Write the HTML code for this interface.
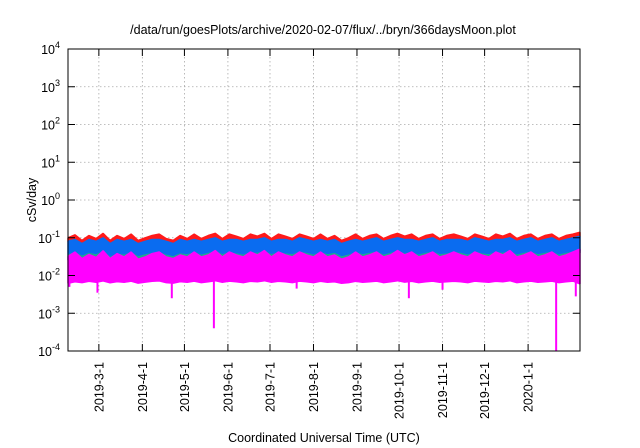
<!DOCTYPE html>
<html><head><meta charset="utf-8"><style>
html,body{margin:0;padding:0;background:#fff;}
svg{display:block;font-family:"Liberation Sans",sans-serif;}
</style></head><body>
<svg id="chart" width="640" height="448" viewBox="0 0 640 448">
<text x="323" y="34" font-size="12.5" text-anchor="middle">/data/run/goesPlots/archive/2020-02-07/flux/../bryn/366daysMoon.plot</text>
<g id="grid"></g>
<g id="series"></g>
<g id="axes"></g>
<text x="0" y="0" font-size="12.5" text-anchor="middle" transform="translate(36,200) rotate(-90)">cSv/day</text>
<text x="324" y="442" font-size="12.5" text-anchor="middle">Coordinated Universal Time (UTC)</text>
</svg>
<script>
const yTickExps = [-4,-3,-2,-1,0,1,2,3,4];
const monthTicks = ["2019-3-1","2019-4-1","2019-5-1","2019-6-1","2019-7-1","2019-8-1","2019-9-1","2019-10-1","2019-11-1","2019-12-1","2020-1-1"];
const sampleStepDays = 5;
const redTop = [0.10,0.12,0.085,0.115,0.095,0.13,0.085,0.115,0.095,0.125,0.085,0.10,0.115,0.125,0.095,0.085,0.115,0.095,0.125,0.095,0.115,0.13,0.095,0.125,0.11,0.095,0.125,0.11,0.13,0.095,0.125,0.11,0.095,0.125,0.11,0.095,0.125,0.095,0.115,0.085,0.10,0.125,0.095,0.115,0.125,0.095,0.115,0.13,0.11,0.125,0.095,0.115,0.125,0.095,0.115,0.125,0.11,0.095,0.125,0.11,0.095,0.125,0.11,0.13,0.095,0.115,0.125,0.095,0.115,0.125,0.095,0.115,0.125,0.14];
const blueTop = [0.08,0.09,0.07,0.09,0.08,0.10,0.07,0.09,0.08,0.09,0.07,0.08,0.09,0.09,0.08,0.07,0.09,0.08,0.09,0.08,0.09,0.10,0.08,0.09,0.09,0.08,0.09,0.09,0.10,0.08,0.09,0.09,0.08,0.10,0.09,0.08,0.09,0.08,0.09,0.07,0.08,0.09,0.08,0.09,0.10,0.08,0.09,0.10,0.09,0.09,0.08,0.09,0.10,0.08,0.09,0.09,0.09,0.08,0.10,0.09,0.08,0.09,0.09,0.10,0.08,0.09,0.10,0.08,0.09,0.10,0.08,0.09,0.10,0.11];
const greenLevel = [0.035,0.04,0.032,0.038,0.035,0.042,0.03,0.037,0.034,0.04,0.031,0.035,0.038,0.04,0.034,0.031,0.037,0.035,0.04,0.034,0.038,0.043,0.035,0.04,0.037,0.034,0.04,0.038,0.043,0.035,0.04,0.037,0.035,0.041,0.038,0.034,0.04,0.035,0.038,0.031,0.034,0.04,0.035,0.038,0.041,0.034,0.038,0.043,0.037,0.04,0.034,0.038,0.041,0.035,0.037,0.04,0.038,0.034,0.041,0.037,0.035,0.04,0.038,0.043,0.034,0.038,0.041,0.035,0.038,0.041,0.034,0.038,0.041,0.046];
const magentaTop = [0.032,0.042,0.028,0.036,0.03,0.045,0.028,0.038,0.031,0.042,0.027,0.031,0.038,0.042,0.031,0.028,0.035,0.031,0.042,0.031,0.035,0.046,0.031,0.042,0.035,0.031,0.042,0.035,0.046,0.031,0.042,0.035,0.031,0.042,0.035,0.031,0.042,0.031,0.035,0.027,0.031,0.042,0.031,0.035,0.042,0.031,0.035,0.046,0.035,0.042,0.031,0.035,0.042,0.031,0.035,0.042,0.035,0.031,0.042,0.035,0.031,0.042,0.035,0.046,0.031,0.035,0.042,0.031,0.035,0.042,0.031,0.035,0.042,0.05];
const magentaLow = [0.0062,0.0068,0.0065,0.0070,0.0066,0.0072,0.0064,0.0069,0.0066,0.0071,0.0063,0.0067,0.0070,0.0072,0.0065,0.0063,0.0069,0.0066,0.0071,0.0065,0.0068,0.0073,0.0066,0.0071,0.0068,0.0065,0.0070,0.0068,0.0073,0.0066,0.0070,0.0068,0.0065,0.0071,0.0068,0.0065,0.0070,0.0066,0.0068,0.0062,0.0065,0.0070,0.0066,0.0068,0.0071,0.0065,0.0068,0.0073,0.0067,0.0070,0.0065,0.0068,0.0071,0.0066,0.0068,0.0070,0.0068,0.0065,0.0071,0.0068,0.0066,0.0070,0.0068,0.0073,0.0065,0.0068,0.0071,0.0066,0.0068,0.0071,0.0065,0.0068,0.0071,0.0060];
const spikeDates = ["2019-2-28","2019-4-22","2019-5-22","2019-7-20","2019-10-8","2019-11-1","2020-1-21","2020-2-4","2019-2-8"];
const spikeValues = [0.0035,0.0025,0.0004,0.0045,0.0025,0.0042,0.0001,0.0028,0.005];

const NS="http://www.w3.org/2000/svg";
const X0=68,X1=580,Y0=49,Y1=351;
const tStart=Date.UTC(2019,1,7), tEnd=Date.UTC(2020,1,7);
function parseD(s){const p=s.split('-').map(Number);return Date.UTC(p[0],p[1]-1,p[2]);}
function xScale(t){return X0+(t-tStart)/(tEnd-tStart)*(X1-X0);}
function xDay(i){return xScale(tStart+i*sampleStepDays*86400000);}
function yScale(v){const l=Math.log10(v);return Y1-(l+4)/8*(Y1-Y0);}
function mk(tag,attrs,parent){const e=document.createElementNS(NS,tag);for(const k in attrs)e.setAttribute(k,attrs[k]);parent.appendChild(e);return e;}
const grid=document.getElementById('grid'),axes=document.getElementById('axes'),ser=document.getElementById('series');

yTickExps.forEach(e=>{
  const y=yScale(Math.pow(10,e));
  if(e>-4&&e<4){const g=mk('line',{x1:X0,x2:X1,y1:y,y2:y,stroke:'#aaa','stroke-width':0.8,'stroke-dasharray':'1.5,2.5'},grid);
  
  }
  const t1=mk('line',{x1:X0,x2:X0+7,y1:y,y2:y,stroke:'#000'},axes);
  
  
  mk('line',{x1:X1-7,x2:X1,y1:y,y2:y,stroke:'#000'},axes);
  const tx=mk('text',{x:60,y:y+5,'font-size':12.5,'text-anchor':'end'},axes);
  
  
  tx.appendChild(document.createTextNode('10'));
  const s=mk('tspan',{dy:-6,'font-size':9},tx);s.textContent=String(e);
});
monthTicks.forEach(m=>{
  const x=xScale(parseD(m));
  const g=mk('line',{x1:x,x2:x,y1:Y0,y2:Y1,stroke:'#aaa','stroke-width':0.8,'stroke-dasharray':'1.5,2.5'},grid);
  
  
  mk('line',{x1:x,x2:x,y1:Y1-7,y2:Y1,stroke:'#000'},axes);
  mk('line',{x1:x,x2:x,y1:Y0,y2:Y0+7,stroke:'#000'},axes);
  const tx=mk('text',{x:0,y:0,'font-size':12.5,'text-anchor':'end',transform:`translate(${x+4.5},${Y1+11}) rotate(-90)`},axes);
  
  
  tx.textContent=m;
});
mk('rect',{x:X0,y:Y0,width:X1-X0,height:Y1-Y0,fill:'none',stroke:'#000','stroke-width':1},axes);

function band(top,bot,fill,name){
  let d='';top.forEach((v,i)=>{d+=(i?'L':'M')+xDay(i).toFixed(1)+','+yScale(v).toFixed(1);});
  for(let i=bot.length-1;i>=0;i--){d+='L'+xDay(i).toFixed(1)+','+yScale(bot[i]).toFixed(1);}
  const p=mk('path',{d:d+'Z',fill:fill,stroke:fill,'stroke-width':1.5,'stroke-linejoin':'bevel'},ser);
  
  
}
band(redTop,blueTop,'#ff1a1a','series-red');
band(blueTop,greenLevel,'#0a6cf0','series-blue');
band(greenLevel,magentaTop.map(v=>v*0.8),'#20a890','series-green');
band(magentaTop,magentaLow,'#ff00ff','series-magenta');
spikeDates.forEach((d,i)=>{
  const x=xScale(parseD(d));
  const l=mk('line',{x1:x,x2:x,y1:yScale(0.007),y2:yScale(spikeValues[i]),stroke:'#ff00ff','stroke-width':2},ser);
  
  
});
</script>
</body></html>
